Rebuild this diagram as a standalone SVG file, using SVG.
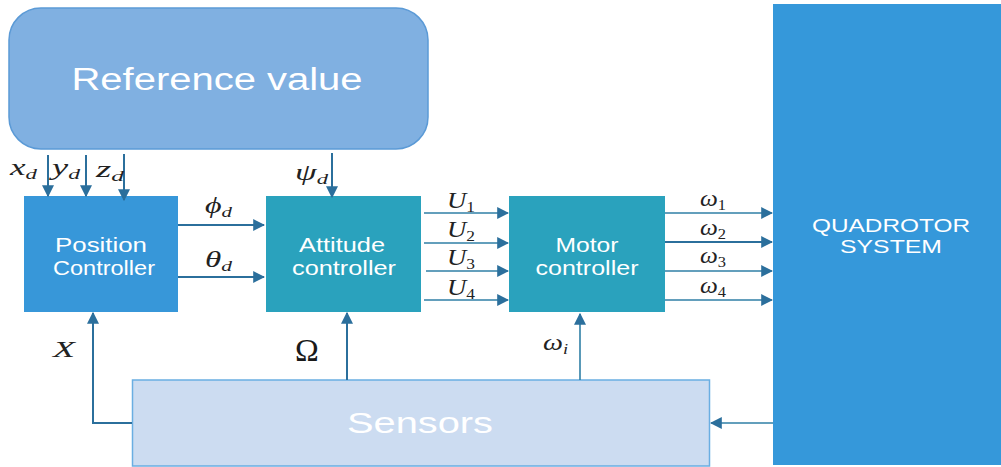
<svg xmlns="http://www.w3.org/2000/svg" width="1001" height="467" viewBox="0 0 1001 467">
  <style>
    .node-text { font-family: "Liberation Sans", Arial, sans-serif; fill: #ffffff; text-anchor: middle; }
    .sym { font-family: "Liberation Serif", "Times New Roman", serif; font-style: italic; fill: #222222; font-size: 23px; }
    .sub { font-size: 15px; }
    .up { font-style: normal; }
    .omega { font-family: "Liberation Serif", "Times New Roman", serif; fill: #1a1a1a; font-size: 32px; }
    .wire { stroke: #2b6f9c; stroke-width: 2; fill: none; }
    .wire-thin { stroke: #2f7fa6; stroke-width: 1.6; fill: none; }
  </style>
  <defs>
    <marker id="arrowBig" viewBox="0 0 10 10" refX="9" refY="5" markerWidth="12" markerHeight="12" orient="auto" markerUnits="userSpaceOnUse">
      <path d="M0,0 L10,5 L0,10 z" fill="#2b6f9c"/>
    </marker>
  </defs>

  <rect width="1001" height="467" fill="#ffffff"/>

  <!-- Reference value -->
  <g id="reference">
    <rect x="9" y="8" width="419" height="141" rx="32" ry="32" fill="#80b0e1" stroke="#5b9ad6" stroke-width="1.5"/>
    <text class="node-text" x="217" y="90" font-size="31" textLength="291" lengthAdjust="spacingAndGlyphs">Reference value</text>
  </g>

  <!-- Position controller -->
  <g id="position">
    <rect x="24" y="196" width="154" height="116" fill="#3797d9"/>
    <text class="node-text" x="101" y="252" font-size="20" textLength="92" lengthAdjust="spacingAndGlyphs">Position</text>
    <text class="node-text" x="104" y="275" font-size="20" textLength="102" lengthAdjust="spacingAndGlyphs">Controller</text>
  </g>

  <!-- Attitude controller -->
  <g id="attitude">
    <rect x="266" y="196" width="155" height="116" fill="#2aa2bd"/>
    <text class="node-text" x="342" y="252" font-size="20" textLength="86" lengthAdjust="spacingAndGlyphs">Attitude</text>
    <text class="node-text" x="344" y="275" font-size="20" textLength="104" lengthAdjust="spacingAndGlyphs">controller</text>
  </g>

  <!-- Motor controller -->
  <g id="motor">
    <rect x="509" y="196" width="156" height="116" fill="#2aa2bd"/>
    <text class="node-text" x="587" y="252" font-size="20" textLength="63" lengthAdjust="spacingAndGlyphs">Motor</text>
    <text class="node-text" x="587" y="275" font-size="20" textLength="103" lengthAdjust="spacingAndGlyphs">controller</text>
  </g>

  <!-- Quadrotor system -->
  <g id="quadrotor">
    <rect x="773" y="4" width="228" height="461" fill="#3598da"/>
    <text class="node-text" x="891" y="232" font-size="19" textLength="158" lengthAdjust="spacingAndGlyphs">QUADROTOR</text>
    <text class="node-text" x="891" y="253" font-size="19" textLength="102" lengthAdjust="spacingAndGlyphs">SYSTEM</text>
  </g>

  <!-- Sensors -->
  <g id="sensors">
    <rect x="132.5" y="380" width="577" height="86" fill="#ccdcf1" stroke="#6aaee2" stroke-width="1.5"/>
    <text class="node-text" x="420" y="433" font-size="30" textLength="146" lengthAdjust="spacingAndGlyphs">Sensors</text>
  </g>

  <!-- Connectors -->
  <g id="connectors">
    <!-- reference inputs -->
    <line class="wire" x1="48" y1="155" x2="48" y2="196" marker-end="url(#arrowBig)"/>
    <line class="wire" x1="86" y1="155" x2="86" y2="196" marker-end="url(#arrowBig)"/>
    <line class="wire" x1="124" y1="154" x2="124" y2="200" marker-end="url(#arrowBig)"/>
    <line class="wire" x1="332" y1="153" x2="332" y2="197" marker-end="url(#arrowBig)"/>

    <!-- position -> attitude -->
    <line class="wire" x1="178" y1="225" x2="264" y2="225" marker-end="url(#arrowBig)"/>
    <line class="wire" x1="178" y1="277" x2="264" y2="277" marker-end="url(#arrowBig)"/>

    <!-- attitude -> motor -->
    <line class="wire-thin" x1="424" y1="213" x2="508" y2="213" marker-end="url(#arrowBig)"/>
    <line class="wire-thin" x1="424" y1="243" x2="508" y2="243" marker-end="url(#arrowBig)"/>
    <line class="wire-thin" x1="426" y1="271" x2="508" y2="271" marker-end="url(#arrowBig)"/>
    <line class="wire-thin" x1="424" y1="300" x2="508" y2="300" marker-end="url(#arrowBig)"/>

    <!-- motor -> quadrotor -->
    <line class="wire-thin" x1="665" y1="213" x2="772" y2="213" marker-end="url(#arrowBig)"/>
    <line class="wire" x1="665" y1="242" x2="772" y2="242" marker-end="url(#arrowBig)"/>
    <line class="wire-thin" x1="665" y1="271" x2="772" y2="271" marker-end="url(#arrowBig)"/>
    <line class="wire-thin" x1="665" y1="300" x2="772" y2="300" marker-end="url(#arrowBig)"/>

    <!-- feedback -->
    <polyline class="wire" points="132,423 93,423 93,313" marker-end="url(#arrowBig)"/>
    <line class="wire" x1="347" y1="380" x2="347" y2="313" marker-end="url(#arrowBig)"/>
    <line class="wire-thin" x1="580" y1="380" x2="580" y2="314" marker-end="url(#arrowBig)"/>
    <line class="wire-thin" x1="773" y1="423" x2="711" y2="423" marker-end="url(#arrowBig)"/>
  </g>

  <!-- Signal labels -->
  <g id="labels">
    <text class="sym" x="10" y="175" textLength="27" lengthAdjust="spacingAndGlyphs">x<tspan class="sub" dy="4">d</tspan></text>
    <text class="sym" x="52" y="175" textLength="28" lengthAdjust="spacingAndGlyphs">y<tspan class="sub" dy="4">d</tspan></text>
    <text class="sym" x="96" y="177" textLength="28" lengthAdjust="spacingAndGlyphs">z<tspan class="sub" dy="4">d</tspan></text>
    <text class="sym" x="295" y="180" textLength="33" lengthAdjust="spacingAndGlyphs">ψ<tspan class="sub" dy="4">d</tspan></text>
    <text class="sym" x="205" y="213" textLength="27" lengthAdjust="spacingAndGlyphs">ϕ<tspan class="sub" dy="4">d</tspan></text>
    <text class="sym" x="205" y="267" textLength="27" lengthAdjust="spacingAndGlyphs">θ<tspan class="sub" dy="4">d</tspan></text>
    <text class="sym" x="447" y="208" textLength="28" lengthAdjust="spacingAndGlyphs">U<tspan class="sub up" dy="4">1</tspan></text>
    <text class="sym" x="447" y="237" textLength="28" lengthAdjust="spacingAndGlyphs">U<tspan class="sub up" dy="4">2</tspan></text>
    <text class="sym" x="447" y="265" textLength="28" lengthAdjust="spacingAndGlyphs">U<tspan class="sub up" dy="4">3</tspan></text>
    <text class="sym" x="447" y="295" textLength="28" lengthAdjust="spacingAndGlyphs">U<tspan class="sub up" dy="4">4</tspan></text>
    <text class="sym" x="700" y="206" textLength="26" lengthAdjust="spacingAndGlyphs">ω<tspan class="sub up" dy="4">1</tspan></text>
    <text class="sym" x="700" y="235" textLength="26" lengthAdjust="spacingAndGlyphs">ω<tspan class="sub up" dy="4">2</tspan></text>
    <text class="sym" x="700" y="263" textLength="26" lengthAdjust="spacingAndGlyphs">ω<tspan class="sub up" dy="4">3</tspan></text>
    <text class="sym" x="700" y="293" textLength="26" lengthAdjust="spacingAndGlyphs">ω<tspan class="sub up" dy="4">4</tspan></text>
    <text class="sym" x="53" y="357" textLength="22" lengthAdjust="spacingAndGlyphs">X</text>
    <text class="omega" x="295" y="361">Ω</text>
    <text class="sym" x="543" y="350" textLength="25" lengthAdjust="spacingAndGlyphs">ω<tspan class="sub" dy="4">i</tspan></text>
  </g>
</svg>
